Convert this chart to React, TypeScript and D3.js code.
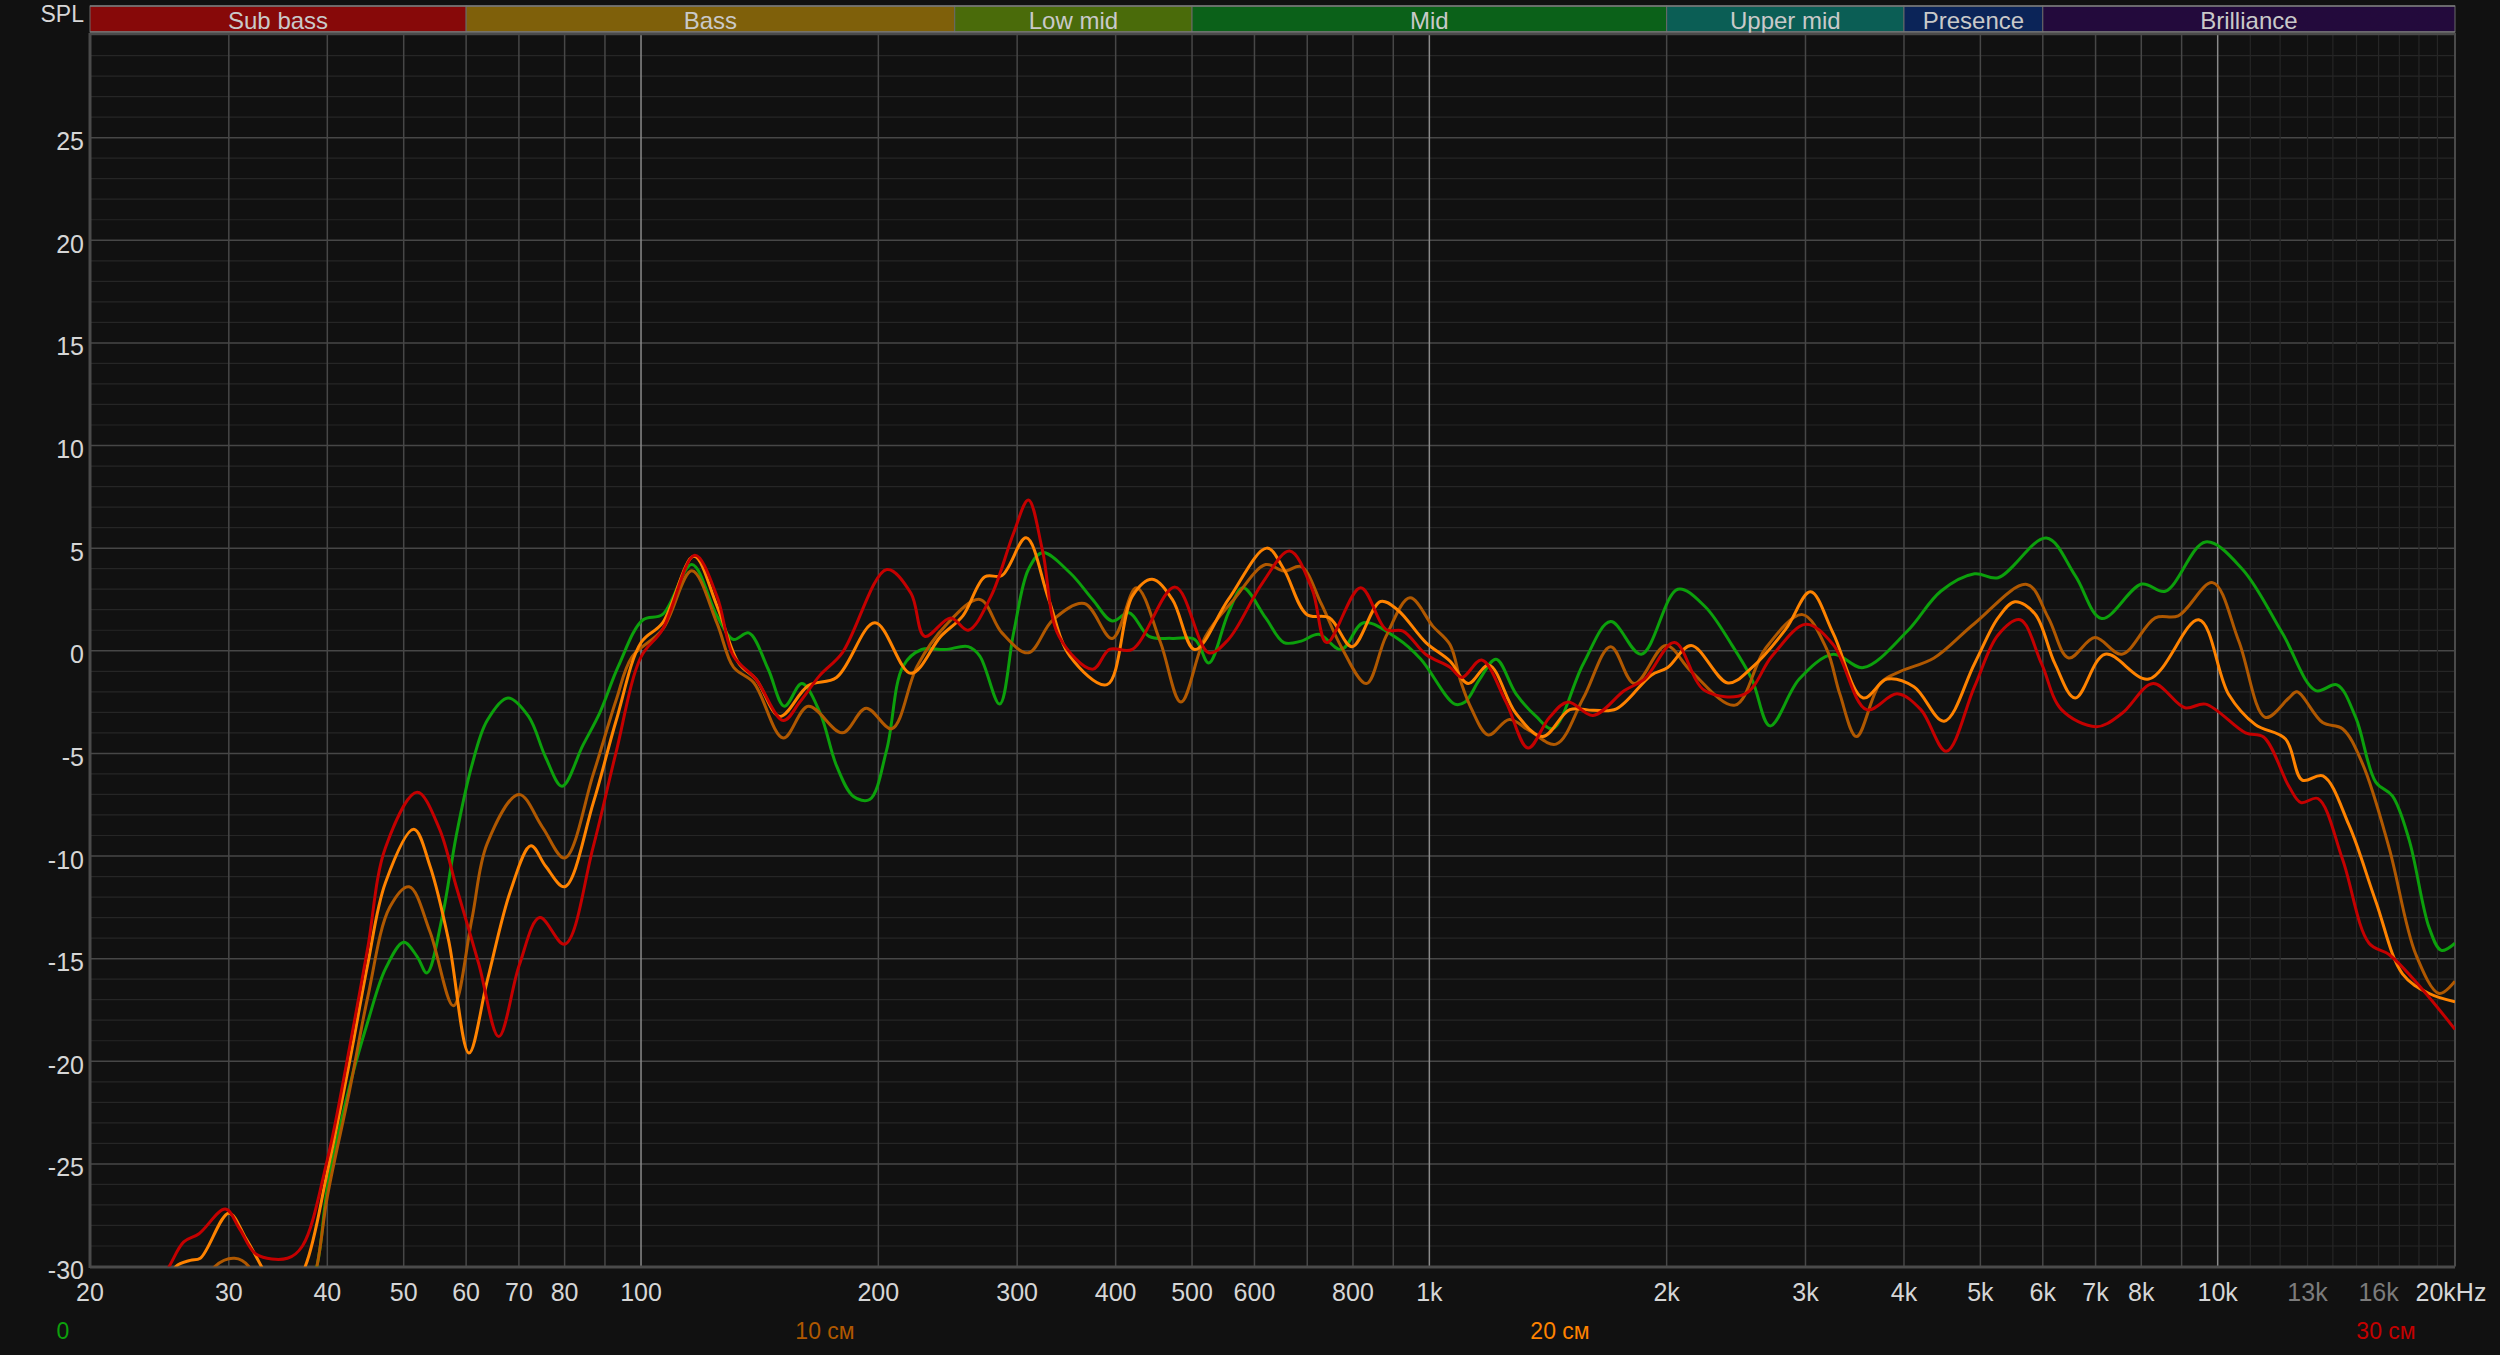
import { useEffect, useRef } from "react";
import * as d3 from "d3";

// ── Tokens ────────────────────────────────────────────────────────────────────

const BG = "#111111";
const TXT = "#d6d6d6";
const TXT_DIM = "#7c7c7c";
const GRID_MAJOR = "#474747";
const GRID_MINOR = "#262626";
const GRID_BRIGHT = "#8a8a8a";
const FONT = "'Liberation Sans', Arial, sans-serif";

// ── Data ──────────────────────────────────────────────────────────────────────

const BAND_NAMES = ["Sub bass", "Bass", "Low mid", "Mid", "Upper mid", "Presence", "Brilliance"];
const BAND_EDGES = [20, 60, 250, 500, 2000, 4000, 6000, 20000];
const BAND_COLORS = ["#870909", "#7f600a", "#4a6b0a", "#0b6119", "#0b5e55", "#0b2458", "#230a3c"];

const X_TICKS = [20, 30, 40, 50, 60, 70, 80, 100, 200, 300, 400, 500, 600, 800, 1000,
  2000, 3000, 4000, 5000, 6000, 7000, 8000, 10000, 13000, 16000, 20000];
const X_TICK_LABELS = ["20", "30", "40", "50", "60", "70", "80", "100", "200", "300", "400",
  "500", "600", "800", "1k", "2k", "3k", "4k", "5k", "6k", "7k", "8k", "10k", "13k", "16k", "20kHz"];
const X_TICK_DIM = ["13k", "16k"];

const GRID_FREQS = [30, 40, 50, 60, 70, 80, 90, 200, 300, 400, 500, 600, 700, 800, 900,
  2000, 3000, 4000, 5000, 6000, 7000, 8000, 9000];
const GRID_BRIGHT_FREQS = [100, 1000, 10000];
const GRID_MINOR_FREQS = [11000, 12000, 13000, 14000, 15000, 16000, 17000, 18000, 19000];

const Y_TICKS = [-30, -25, -20, -15, -10, -5, 0, 5, 10, 15, 20, 25];

const SERIES_NAMES = ["0", "10 см", "20 см", "30 см"];
const SERIES_COLORS = ["#0ca00c", "#b05800", "#ff8300", "#c40000"];
const LEGEND_X = [63, 825, 1560, 2386];

const GREEN_F = [36, 38.8, 40, 42.7, 45, 47.4, 50, 52, 53.5, 56, 58.3, 61, 63.8, 67.8, 72, 75.7,
  79.4, 84.4, 88.7, 93.6, 100.5, 106.5, 116, 124.8, 131, 137, 145, 152, 160, 168.6, 177, 186,
  195, 205, 215, 227, 243, 260, 269, 285, 297, 310, 323, 350, 374, 396, 416, 441, 472, 504,
  525, 556, 580, 620, 654, 688, 724, 773, 825, 911, 975, 1077, 1110, 1158, 1215, 1288, 1366,
  1434, 1568, 1698, 1857, 2066, 2235, 2418, 2565, 2705, 2946, 3252, 3551, 4038, 4454, 4915,
  5265, 6063, 6596, 7126, 8011, 8581, 9652, 10735, 12077, 13318, 14169, 14965, 15867, 16657,
  17488, 18549, 19216, 20000];
const GREEN_DB = [-34, -30, -26.2, -21.2, -18.1, -15.5, -14.2, -14.9, -15.7, -12.9, -9.0, -5.6,
  -3.4, -2.3, -3.2, -5.2, -6.6, -4.6, -3.0, -0.75, 1.5, 1.77, 4.2, 1.7, 0.55, 0.87, -0.9, -2.7,
  -1.6, -3.0, -5.6, -7.1, -7.25, -4.8, -0.75, 0.06, 0.06, 0.2, -0.26, -2.6, 0.9, 3.96, 4.78,
  3.8, 2.5, 1.45, 1.85, 0.7, 0.6, 0.55, -0.6, 1.85, 3.07, 1.6, 0.4, 0.47, 0.8, 0.06, 1.36, 0.6,
  -0.4, -2.6, -2.5, -1.4, -0.41, -2.1, -3.2, -3.8, -0.63, 1.42, -0.17, 3.0, 2.17, 0.3, -1.38,
  -3.66, -1.38, -0.17, -0.82, 0.95, 2.9, 3.75, 3.56, 5.49, 3.66, 1.57, 3.25, 2.9, 5.3, 4.0,
  0.86, -1.94, -1.66, -3.25, -6.4, -7.07, -9.2, -13.5, -14.6, -14.25];

const BROWN_F = [27, 28.8, 30.5, 31.8, 33, 37, 38.8, 40, 42.7, 45, 48, 50.8, 54, 57.8, 61, 63.8,
  70, 75, 80, 87, 93, 97.4, 106.5, 116, 124.8, 131, 139, 151.5, 163, 180, 193, 208, 224, 243,
  269, 287, 310, 333, 365, 396, 425, 456, 484, 520, 565, 620, 654, 688, 729, 773, 832, 881,
  945, 1010, 1062, 1096, 1130, 1188, 1263, 1340, 1448, 1568, 1698, 1820, 1995, 2148, 2442,
  2669, 2974, 3189, 3316, 3482, 3734, 3961, 4367, 4915, 5727, 6099, 6471, 6986, 7557, 8333,
  8913, 9852, 10631, 11498, 12311, 12604, 13586, 14397, 15264, 16498, 17840, 19104, 20000];
const BROWN_DB = [-32, -30, -29.6, -30, -32, -33, -30, -26.6, -21.4, -16.9, -12.5, -11.5, -13.7,
  -17.3, -13.1, -9.4, -7.0, -8.6, -10.1, -6.0, -2.4, -0.3, 1.04, 3.9, 1.36, -0.8, -1.56, -4.25,
  -2.7, -4.0, -2.8, -3.8, -0.75, 1.2, 2.5, 0.87, -0.1, 1.5, 2.3, 0.6, 3.07, 0.4, -2.5, 0.7, 2.5,
  4.2, 3.88, 4.1, 2.3, 0.2, -1.6, 0.7, 2.58, 1.2, 0.3, -1.5, -2.8, -4.1, -3.35, -3.9, -4.55,
  -2.3, 0.2, -1.6, 0.26, -1.0, -2.65, 0.11, 1.76, 0.11, -2.1, -4.18, -1.57, -1.0, -0.35, 1.33,
  3.23, 1.6, -0.35, 0.64, -0.17, 1.6, 1.7, 3.32, 0.49, -3.25, -2.3, -2.0, -3.5, -3.8, -5.5,
  -9.6, -14.8, -16.7, -16.1];

const ORANGE_F = [24.5, 25.7, 26.8, 27.6, 30, 31.5, 33, 35, 37.5, 40, 42.7, 45, 47.4, 51.5, 54,
  57, 60.5, 63.8, 68.3, 72.5, 75.7, 80, 87, 93, 100, 106.5, 116.7, 124.8, 133, 140, 150, 163,
  177, 198, 220, 240, 256, 273, 287, 308, 329, 350, 390, 420, 445, 472, 504, 556, 622, 654,
  699, 747, 798, 867, 911, 990, 1062, 1120, 1190, 1288, 1393, 1507, 1613, 1727, 1912, 2006,
  2148, 2392, 2565, 2832, 3044, 3252, 3551, 3807, 4118, 4497, 4915, 5265, 5531, 5866, 6216,
  6596, 7197, 8176, 9463, 10327, 11164, 12192, 12800, 13600, 14675, 15867, 17155, 18549, 20000];
const ORANGE_DB = [-32, -30, -29.7, -29.6, -27.4, -28.6, -30, -32, -30, -25.4, -20, -15.3, -11.3,
  -8.7, -10.5, -14.1, -19.6, -16.1, -11.7, -9.5, -10.5, -11.5, -7.4, -3.4, 0.4, 1.36, 4.6, 2.2,
  -0.6, -1.4, -3.2, -1.7, -1.3, 1.36, -1.1, 0.7, 1.7, 3.6, 3.67, 5.5, 2.5, -0.26, -1.65, 2.66,
  3.48, 2.5, 0.06, 2.5, 5.0, 3.96, 1.77, 1.6, 0.2, 2.4, 2.0, 0.4, -0.5, -1.6, -0.7, -3.06,
  -4.18, -2.87, -2.9, -2.83, -1.19, -0.82, 0.26, -1.57, -0.82, 1.05, 2.87, 0.86, -2.3, -1.38,
  -1.75, -3.43, -0.63, 1.6, 2.39, 1.79, -0.63, -2.3, -0.17, -1.38, 1.51, -2.13, -3.6, -4.3,
  -6.3, -6.1, -8.5, -12.2, -15.74, -16.7, -17.1];

const RED_F = [23.5, 25.2, 26.3, 27.5, 29.7, 31, 32.5, 35.6, 37.2, 40, 42.7, 45, 47.4, 52, 55.4,
  58.3, 62.3, 66, 70.1, 74.4, 80, 86.9, 92.9, 100, 106.5, 117, 124.8, 131, 140, 151.5, 159,
  168.6, 180, 205, 220, 229, 247, 260, 278, 297, 310, 323, 339, 374, 393, 420, 476, 525, 556,
  614, 665, 710, 741, 818, 881, 926, 990, 1062, 1100, 1165, 1251, 1334, 1420, 1499, 1613,
  1768, 1875, 2046, 2235, 2515, 2721, 3003, 3252, 3587, 3922, 4202, 4526, 4915, 5265, 5616,
  5978, 6337, 7016, 7557, 8283, 9089, 9652, 10845, 11435, 12311, 12754, 13400, 14397, 15560,
  16498, 18186, 20000];
const RED_DB = [-32, -30, -28.8, -28.4, -27.2, -28.2, -29.4, -29.6, -29.0, -24.8, -19.3, -14.5,
  -9.6, -6.9, -8.6, -11.5, -15.3, -18.8, -15.3, -13.0, -14.3, -9.6, -5.0, -0.3, 1.04, 4.65,
  2.67, -0.26, -1.4, -3.4, -2.5, -1.2, -0.1, 3.96, 2.8, 0.7, 1.6, 1.0, 2.66, 5.75, 7.35, 4.9,
  0.7, -0.9, 0.07, 0.07, 3.1, -0.1, 0.55, 3.3, 4.86, 3.0, 0.4, 3.07, 1.04, 0.96, -0.18, -0.8,
  -1.3, -0.45, -2.5, -4.74, -3.25, -2.5, -3.15, -1.94, -1.38, 0.4, -1.94, -2.1, -0.26, 1.29,
  0.3, -2.87, -2.1, -2.87, -4.9, -1.75, 0.77, 1.51, -0.63, -2.87, -3.7, -3.06, -1.6, -2.78,
  -2.6, -4.0, -4.2, -6.6, -7.4, -7.2, -10.15, -14.25, -14.8, -16.5, -18.45];

const SERIES_F = [GREEN_F, BROWN_F, ORANGE_F, RED_F];
const SERIES_DB = [GREEN_DB, BROWN_DB, ORANGE_DB, RED_DB];

// ── Chart ─────────────────────────────────────────────────────────────────────

function SplChart() {
  const svgRef = useRef<SVGSVGElement>(null);

  useEffect(() => {
    if (!svgRef.current) return;
    const W = 2500, H = 1355;
    const L = 90, R = 2455, T = 35, B = 1266.5;

    const svg = d3.select(svgRef.current);
    svg.selectAll("*").remove();
    svg.attr("viewBox", `0 0 ${W} ${H}`);

    const x = d3.scaleLog().domain([20, 20000]).range([L, R]);
    const y = d3.scaleLinear().domain([-30, 30]).range([B, T]);

    svg.append("rect").attr("width", W).attr("height", H).attr("fill", BG);

    // Frequency bands
    const bands = BAND_NAMES.map((name, i) => ({
      name, color: BAND_COLORS[i], x0: x(BAND_EDGES[i]), x1: x(BAND_EDGES[i + 1]),
    }));
    const bg = svg.append("g");
    bg.selectAll("rect")
      .data(bands)
      .join("rect")
      .attr("x", d => d.x0)
      .attr("y", 6)
      .attr("width", d => d.x1 - d.x0)
      .attr("height", 26)
      .attr("fill", d => d.color)
      .attr("stroke", "#6a6a6a")
      .attr("stroke-width", 1);
    bg.append("line").attr("x1", L).attr("x2", R).attr("y1", 6).attr("y2", 6)
      .attr("stroke", "#7a7a7a").attr("stroke-width", 1.5);
    bg.append("line").attr("x1", L).attr("x2", R).attr("y1", 32).attr("y2", 32)
      .attr("stroke", "#7a7a7a").attr("stroke-width", 1.5);
    bg.selectAll("text")
      .data(bands)
      .join("text")
      .attr("x", d => (d.x0 + d.x1) / 2)
      .attr("y", 29)
      .attr("text-anchor", "middle")
      .attr("fill", "#c9c9c9")
      .attr("font-size", "24px")
      .attr("font-family", FONT)
      .text(d => d.name);

    svg.append("text")
      .attr("x", 84).attr("y", 22)
      .attr("text-anchor", "end")
      .attr("fill", TXT)
      .attr("font-size", "23px")
      .attr("font-family", FONT)
      .text("SPL");

    // Grid
    const grid = svg.append("g");
    grid.selectAll(".hmin")
      .data(d3.range(-29, 30).filter(v => v % 5 !== 0))
      .join("line")
      .attr("x1", L).attr("x2", R)
      .attr("y1", d => y(d)).attr("y2", d => y(d))
      .attr("stroke", GRID_MINOR).attr("stroke-width", 1.2);
    grid.selectAll(".hmaj")
      .data(Y_TICKS.filter(v => v > -30))
      .join("line")
      .attr("x1", L).attr("x2", R)
      .attr("y1", d => y(d)).attr("y2", d => y(d))
      .attr("stroke", GRID_MAJOR).attr("stroke-width", 1.5);

    const vlines = (data: number[], color: string, w: number) =>
      grid.append("g").selectAll("line")
        .data(data)
        .join("line")
        .attr("x1", d => x(d)).attr("x2", d => x(d))
        .attr("y1", T).attr("y2", B)
        .attr("stroke", color).attr("stroke-width", w);
    vlines(GRID_MINOR_FREQS, GRID_MINOR, 1.2);
    vlines(GRID_FREQS, GRID_MAJOR, 1.5);
    vlines(GRID_BRIGHT_FREQS, GRID_BRIGHT, 1.5);

    // Frame
    grid.append("line").attr("x1", L).attr("x2", R).attr("y1", 34).attr("y2", 34)
      .attr("stroke", "#4a4a4a").attr("stroke-width", 2.5);
    grid.append("line").attr("x1", R).attr("x2", R).attr("y1", 33).attr("y2", B)
      .attr("stroke", "#4a4a4a").attr("stroke-width", 2);
    grid.append("line").attr("x1", L).attr("x2", L).attr("y1", 33).attr("y2", B + 1.5)
      .attr("stroke", "#4a4a4a").attr("stroke-width", 3);
    grid.append("line").attr("x1", L).attr("x2", R).attr("y1", B + 0.5).attr("y2", B + 0.5)
      .attr("stroke", "#4a4a4a").attr("stroke-width", 3);

    // Y labels
    svg.append("g").selectAll("text")
      .data(Y_TICKS)
      .join("text")
      .attr("x", 84)
      .attr("y", d => y(d) + 12.5)
      .attr("text-anchor", "end")
      .attr("fill", TXT)
      .attr("font-size", "25px")
      .attr("font-family", FONT)
      .text(d => String(d));

    // X labels
    svg.append("g").selectAll("text")
      .data(X_TICKS.map((f, i) => ({ f, label: X_TICK_LABELS[i] })))
      .join("text")
      .attr("x", d => x(d.f) - (d.f === 20000 ? 4 : 0))
      .attr("y", 1301)
      .attr("text-anchor", "middle")
      .attr("fill", d => X_TICK_DIM.includes(d.label) ? TXT_DIM : TXT)
      .attr("font-size", "25px")
      .attr("font-family", FONT)
      .text(d => d.label);

    // Curves
    svg.append("clipPath").attr("id", "plot-clip")
      .append("rect").attr("x", L).attr("y", T).attr("width", R - L).attr("height", B - T);

    const line = d3.line<[number, number]>()
      .x(d => x(d[0]))
      .y(d => y(d[1]))
      .curve(d3.curveCatmullRom.alpha(0.5));

    const cg = svg.append("g").attr("clip-path", "url(#plot-clip)");
    SERIES_F.forEach((fs, i) => {
      const pts = fs.map((f, j) => [f, SERIES_DB[i][j]] as [number, number]);
      cg.append("path")
        .attr("d", line(pts))
        .attr("fill", "none")
        .attr("stroke", SERIES_COLORS[i])
        .attr("stroke-width", 3)
        .attr("stroke-linejoin", "round");
    });

    // Series labels
    svg.append("g").selectAll("text")
      .data(SERIES_NAMES.map((name, i) => ({ name, color: SERIES_COLORS[i], cx: LEGEND_X[i] })))
      .join("text")
      .attr("x", d => d.cx)
      .attr("y", 1339)
      .attr("text-anchor", "middle")
      .attr("fill", d => d.color)
      .attr("font-size", "23px")
      .attr("font-family", FONT)
      .text(d => d.name);
  }, []);

  return <svg ref={svgRef} width={2500} height={1355} style={{ display: "block" }} />;
}

export default function App() {
  return (
    <div style={{ position: "fixed", left: 0, top: 0, width: 2500, height: 1355, background: BG }}>
      <SplChart />
    </div>
  );
}
